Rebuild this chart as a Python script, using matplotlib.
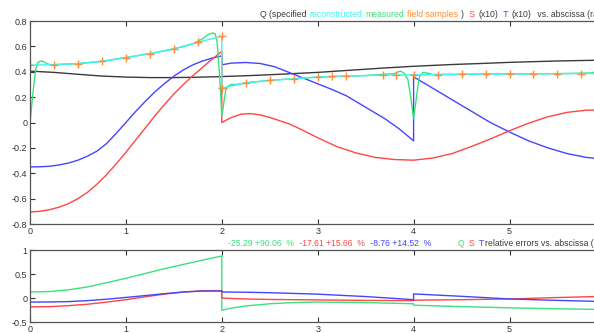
import numpy as np
import matplotlib
matplotlib.use('Agg')
import matplotlib.pyplot as plt
from matplotlib.ticker import FuncFormatter

plt.rcParams['font.family'] = ['Liberation Sans', 'DejaVu Sans']

RED = '#ff4545'
BLUE = '#4545ff'
GREEN = '#3be07e'
CYAN = '#3ef5f0'
ORANGE = '#ff8c3a'
BLACK = '#3a3a3a'

# ---- top panel: Q (specified, reconstructed, measured, samples), S, T (x10)
x_spec = [0, 0.25, 0.5, 0.75, 1.0, 1.25, 1.5, 1.75, 2.0, 2.3, 2.6, 3.0, 3.3, 3.7, 4.0, 4.4, 4.7, 5.0, 5.5, 6.0]
q_spec = [0.405, 0.395, 0.38, 0.366, 0.358, 0.354, 0.354, 0.357, 0.362, 0.37, 0.38, 0.395, 0.41, 0.43, 0.443, 0.457, 0.465, 0.474, 0.485, 0.492]

x_rec = [0, 0.25, 0.5, 0.75, 1.0, 1.25, 1.5, 1.75, 2.0, 2.0, 2.25, 2.5, 2.75, 3.0, 3.25, 3.5, 3.75, 4.0, 4.25, 4.5, 5.0, 5.5, 6.0]
q_rec = [0.452, 0.456, 0.464, 0.482, 0.512, 0.543, 0.58, 0.632, 0.68, 0.272, 0.313, 0.332, 0.345, 0.358, 0.365, 0.37, 0.374, 0.376, 0.378, 0.38, 0.383, 0.385, 0.386]

x_meas = [0, 0.02, 0.04, 0.06, 0.08, 0.11, 0.14, 0.18, 0.22, 0.5, 0.75, 1.0, 1.25, 1.5, 1.7, 1.8, 1.85, 1.9, 1.93,
          1.95, 1.97, 1.99, 2.0, 2.02, 2.04, 2.07, 2.1, 2.15, 2.2, 2.25, 2.5, 2.75, 3.0, 3.5, 3.8, 3.86, 3.9, 3.94,
          3.97, 4.0, 4.03, 4.06, 4.1, 4.14, 4.2, 4.5, 5.0, 5.5, 5.85, 5.92, 6.0]
q_meas = [0.0, 0.15, 0.3, 0.42, 0.47, 0.485, 0.48, 0.462, 0.455, 0.464, 0.482, 0.512, 0.543, 0.58, 0.62, 0.66, 0.69, 0.705, 0.70,
          0.64, 0.45, 0.2, 0.05, 0.15, 0.25, 0.29, 0.30, 0.30, 0.305, 0.313, 0.332, 0.345, 0.358, 0.37, 0.385, 0.405, 0.39, 0.34,
          0.2, 0.03, 0.2, 0.36, 0.395, 0.39, 0.378, 0.38, 0.383, 0.385, 0.39, 0.405, 0.41]

x_samp = [0, 0.25, 0.5, 0.75, 1.0, 1.25, 1.5, 1.75, 2.0, 2.0, 2.25, 2.5, 2.75, 3.0, 3.15, 3.3, 3.68, 3.82, 4.0,
          4.25, 4.5, 4.75, 5.0, 5.25, 5.5, 5.75]
q_samp = [0.456, 0.456, 0.464, 0.482, 0.512, 0.543, 0.578, 0.632, 0.68, 0.272, 0.313, 0.332, 0.345, 0.36, 0.364, 0.366, 0.374, 0.375, 0.376,
          0.372, 0.381, 0.383, 0.384, 0.385, 0.385, 0.385]

x_s = [0, 0.1, 0.2, 0.3, 0.4, 0.5, 0.6, 0.7, 0.8, 0.9, 1.0, 1.1, 1.2, 1.3, 1.4, 1.5, 1.6, 1.7, 1.8, 1.9, 2.0,
       2.0, 2.1, 2.2, 2.3, 2.4, 2.5, 2.6, 2.7, 2.8, 3.0, 3.2, 3.4, 3.6, 3.8, 4.0, 4.2, 4.4, 4.6, 4.8, 5.0, 5.2,
       5.4, 5.6, 5.8, 6.0]
s_top = [-0.705, -0.70, -0.688, -0.668, -0.64, -0.60, -0.55, -0.485, -0.41, -0.325, -0.235, -0.14, -0.045, 0.05, 0.14, 0.225, 0.30, 0.37, 0.435, 0.50, 0.56,
         0.0, 0.04, 0.065, 0.07, 0.06, 0.04, 0.015, -0.01, -0.045, -0.12, -0.19, -0.24, -0.275, -0.292, -0.297, -0.28, -0.245, -0.19, -0.13, -0.065, -0.005,
         0.045, 0.08, 0.097, 0.1]

x_t = [0, 0.1, 0.2, 0.3, 0.4, 0.5, 0.6, 0.7, 0.8, 0.9, 1.0, 1.1, 1.2, 1.3, 1.4, 1.5, 1.6, 1.7, 1.8, 1.9, 2.0,
       2.0, 2.1, 2.25, 2.4, 2.55, 2.65, 2.8, 3.0, 3.15, 3.3, 3.5, 3.7, 3.85, 4.0,
       4.0, 4.2, 4.4, 4.6, 4.8, 5.0, 5.2, 5.4, 5.6, 5.8, 6.0]
t_top = [-0.35, -0.349, -0.345, -0.335, -0.32, -0.297, -0.265, -0.225, -0.165, -0.085, 0.0, 0.085, 0.165, 0.24, 0.305, 0.365, 0.415, 0.455, 0.485, 0.508, 0.525,
         0.455, 0.468, 0.473, 0.465, 0.44, 0.41, 0.365, 0.305, 0.26, 0.21, 0.12, 0.03, -0.05, -0.145,
         0.36, 0.27, 0.18, 0.09, 0.0, -0.075, -0.145, -0.2, -0.245, -0.275, -0.29]

# ---- bottom panel: relative errors
x_err = [0, 0.2, 0.4, 0.6, 0.8, 1.0, 1.2, 1.4, 1.6, 1.8, 2.0, 2.0, 2.1, 2.25, 2.5, 2.75, 3.0, 3.5, 4.0, 4.0, 4.5, 5.0, 5.5, 6.0]
err_q = [0.125, 0.135, 0.17, 0.23, 0.32, 0.41, 0.51, 0.61, 0.70, 0.79, 0.875, -0.255, -0.21, -0.165, -0.12, -0.095, -0.085, -0.095, -0.12, -0.15, -0.18, -0.205, -0.225, -0.24]
err_s = [-0.185, -0.18, -0.16, -0.13, -0.085, -0.035, 0.025, 0.08, 0.125, 0.15, 0.155, 0.0, -0.01, -0.02, -0.03, -0.035, -0.04, -0.05, -0.055, -0.045, -0.035, -0.02, 0.01, 0.035]
err_t = [-0.085, -0.083, -0.075, -0.055, -0.025, 0.012, 0.05, 0.09, 0.125, 0.145, 0.145, 0.125, 0.123, 0.12, 0.11, 0.095, 0.08, 0.03, -0.035, 0.085, 0.035, -0.02, -0.05, -0.075]

fig = plt.figure(figsize=(5.94, 3.33), dpi=100)
W, H = 594.0, 333.0
x0_px = 30.0
px_per_unit = 95.9
xmax = 6.0
ax_w = xmax * px_per_unit / W

ax1 = fig.add_axes([x0_px / W, 1 - 224 / H, ax_w, (224 - 21) / H])
ax2 = fig.add_axes([x0_px / W, 1 - 322 / H, ax_w, (322 - 250) / H])

lw = 1.0
ax1.plot(x_spec, q_spec, color=BLACK, lw=lw)
ax1.plot(x_t, t_top, color=BLUE, lw=lw)
ax1.plot(x_s, s_top, color=RED, lw=lw)
ax1.plot(x_meas, q_meas, color=GREEN, lw=lw)
ax1.plot(x_rec, q_rec, color=CYAN, lw=lw)
ax1.plot(x_samp, q_samp, ls='none', marker='+', color=ORANGE, ms=6, mew=1.0)

ax2.plot(x_err, err_q, color=GREEN, lw=lw)
ax2.plot(x_err, err_s, color=RED, lw=lw)
ax2.plot(x_err, err_t, color=BLUE, lw=lw)


def fmt(v, pos):
    s = ('%.1f' % v).rstrip('0').rstrip('.')
    return '0' if s in ('-0', '0') else s


for ax in (ax1, ax2):
    ax.set_xlim(0, xmax)
    ax.set_xticks([0, 1, 2, 3, 4, 5])
    ax.tick_params(direction='in', length=3.5, width=0.8, labelsize=6.5,
                   colors='#333333', top=True, right=True, pad=2)
    ax.yaxis.set_major_formatter(FuncFormatter(fmt))
    for sp in ax.spines.values():
        sp.set_color('#555555')
        sp.set_linewidth(0.9)

ax1.set_ylim(-0.8, 0.8)
ax1.set_yticks(np.arange(-0.8, 0.81, 0.2))
ax2.set_ylim(-0.5, 1.0)
ax2.set_yticks([-0.5, 0, 0.5, 1.0])

# multi-coloured titles, pieces chained one after another
fs = 6.2
renderer = fig.canvas.get_renderer()


def chain(x_start, y_px, parts, gap=3):
    x = x_start
    for txt, c in parts:
        t = fig.text(x / W, 1 - y_px / H, txt, color=c, fontsize=fs, va='center', ha='left')
        bb = t.get_window_extent(renderer)
        x = bb.x1 + gap


chain(260, 14.5, [('Q (specified', BLACK), ('reconstructed', CYAN), ('measured', GREEN),
                  ('field samples', ORANGE), (')', BLACK), (' S', RED), ('(x10)', BLACK),
                  (' T', BLUE), ('(x10)', BLACK), (' vs. abscissa (rad)', BLACK)])

chain(228, 243, [('-25.29 +90.06  %', GREEN), (' -17.61 +15.66  %', RED), (' -8.76 +14.52  %', BLUE)])
chain(458, 243, [('Q', GREEN), ('S', RED), ('T', BLUE)], gap=4)
fig.text(485 / W, 1 - 243 / H, 'relative errors vs. abscissa (rad)', color=BLACK, fontsize=fs,
         va='center', ha='left')

fig.savefig('out.png', dpi=100)
